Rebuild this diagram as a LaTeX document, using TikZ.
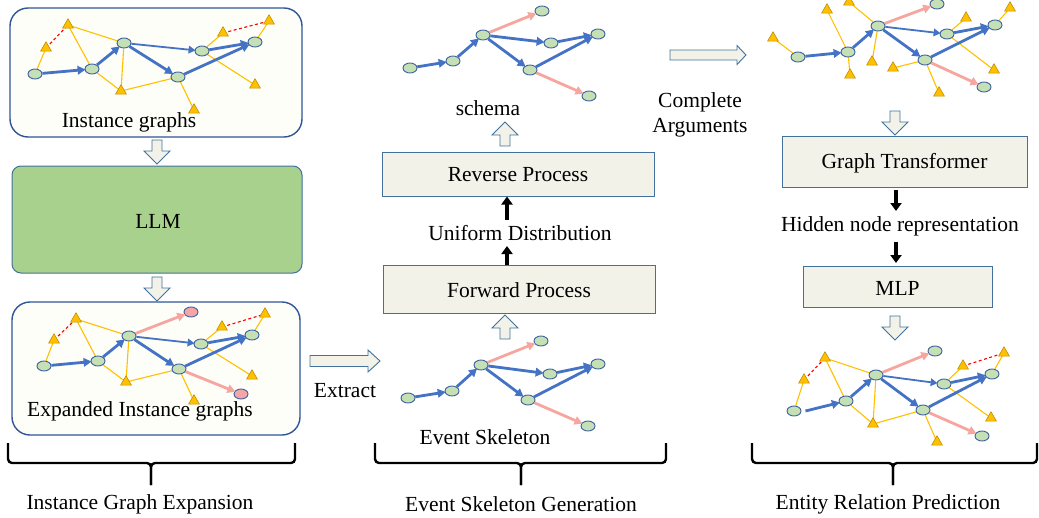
\documentclass[tikz,border=0pt]{standalone}
\usepackage{fontspec}
\setmainfont{Liberation Serif}
\usetikzlibrary{shapes.geometric,arrows.meta}
\definecolor{evfill}{HTML}{C5E0B4}
\definecolor{evborder}{HTML}{3A5E9E}
\definecolor{pinkfill}{HTML}{F4A6A6}
\definecolor{bluearr}{HTML}{4472C4}
\definecolor{pinkarr}{HTML}{F6A69E}
\definecolor{argfill}{HTML}{FFC000}
\definecolor{argborder}{HTML}{BF9000}
\definecolor{yel}{HTML}{FFC000}
\definecolor{boxfill}{HTML}{F2F2E8}
\definecolor{boxborder}{HTML}{41719C}
\definecolor{llmgreen}{HTML}{A9D18E}
\definecolor{gbfill}{HTML}{FEFEF9}
\definecolor{gbborder}{HTML}{2F5597}
\pgfdeclarelayer{back}
\pgfdeclarelayer{bg}
\pgfsetlayers{back,bg,main}
\tikzset{
  ev/.style={ellipse, draw=evborder, fill=evfill, line width=0.9pt, minimum width=14pt, minimum height=10pt, inner sep=0pt},
  evp/.style={ev, fill=pinkfill},
  arg/.style={regular polygon, regular polygon sides=3, draw=argborder, fill=argfill, line width=0.6pt, inner sep=0pt, minimum size=12.5pt},
  yl/.style={draw=yel, line width=1.1pt},
  rd/.style={draw=red, line width=1.1pt, dash pattern=on 3pt off 2.5pt},
  bthick/.style={draw=bluearr, line width=2.8pt, -{Triangle[length=8pt,width=8.5pt]}, shorten >=-1pt},
  bthin/.style={draw=bluearr, line width=1.8pt, -{Triangle[length=7pt,width=7.5pt]}, shorten >=-1pt},
  pk/.style={draw=pinkarr, line width=2.8pt, -{Triangle[length=8pt,width=8.5pt]}, shorten >=-1pt},
  hollow/.style={draw=boxborder, fill=boxfill, line width=0.9pt, line join=miter},
  procbox/.style={draw=boxborder, fill=boxfill, line width=1pt},
  gbox/.style={draw=gbborder, fill=gbfill, line width=1.4pt, rounded corners=18pt},
  txt/.style={inner sep=1pt, font=\fontsize{21.5}{24}\selectfont},
  blk/.style={draw=black, line width=3.2pt, -{Triangle[length=8pt,width=11pt]}},
  brace/.style={draw=black, line width=2.4pt, rounded corners=4pt},
  pics/vdown/.style={code={\draw[hollow] (-5,0) -- (5,0) -- (5,11) -- (13,11) -- (0,24) -- (-13,11) -- (-5,11) -- cycle;}},
  pics/vup/.style={code={\draw[hollow] (-5,0) -- (5,0) -- (5,-11) -- (13,-11) -- (0,-24) -- (-13,-11) -- (-5,-11) -- cycle;}},
  pics/hbig/.style={code={\draw[hollow] (0,-5.5) -- (58,-5.5) -- (58,-11) -- (70,0) -- (58,11) -- (58,5.5) -- (0,5.5) -- cycle;}},
  pics/hsmall/.style={code={\draw[hollow] (0,-5) -- (67,-5) -- (67,-9.5) -- (76,0) -- (67,9.5) -- (67,5) -- (0,5) -- cycle;}},
}
\begin{document}
\begin{tikzpicture}[x=1pt,y=-1pt]
\useasboundingbox (0,0) rectangle (1039,517);

% ---------- left column boxes ----------
\begin{pgfonlayer}{back}
\node[gbox, minimum width=292pt, minimum height=129pt] (box1) at (156,72.5) {};
\node[gbox, minimum width=288pt, minimum height=133pt] (box3) at (156,368.5) {};
\end{pgfonlayer}
\node[procbox, fill=llmgreen, rounded corners=9pt, minimum width=290pt, minimum height=107pt] (llm) at (157,219.5) {};
\node[txt] (llmt) at (158,221) {LLM};
\node[txt] (t1) at (129,122) {Instance graphs};
\node[txt] (t3) at (140,411) {Expanded Instance graphs};
\pic at (157,140) {vdown};
\pic at (157,277) {vdown};

% ---------- graph A (instance graphs) ----------
\node[ev] (a1) at (35,74) {};
\node[ev] (a2) at (92,69) {};
\node[ev] (a3) at (124,43) {};
\node[ev] (a4) at (202,51) {};
\node[ev] (a5) at (255,42) {};
\node[ev] (a6) at (178,77) {};
\node[arg] (at1) at (46,48) {};
\node[arg] (at2) at (68,25) {};
\node[arg] (at3) at (121,91) {};
\node[arg] (at4) at (194,110) {};
\node[arg] (at5) at (223,33) {};
\node[arg] (at6) at (269,21) {};
\node[arg] (at7) at (255,85) {};
\begin{pgfonlayer}{bg}
\draw[yl] (at1.center) -- (a1) (at2.center) -- (a3) (at2.center) -- (a2) (a2) -- (at3.center) (a3) -- (at3.center) (at3.center) -- (a6) (a6) -- (at4.center) (at5.center) -- (a4) (a4) -- (at7.center) (at6.center) -- (a5);
\draw[rd] (at1.center) -- (at2.center) (at5.center) -- (at6.center);
\end{pgfonlayer}
\draw[bthick] (a1) -- (a2);
\draw[bthick] (a2) -- (a3);
\draw[bthin] (a3) -- (a4);
\draw[bthick] (a3) -- (a6);
\draw[bthick] (a4) -- (a5);
\draw[bthick] (a6) -- (a5);

% ---------- graph B (expanded) ----------
\node[ev] (b1) at (44,366) {};
\node[ev] (b2) at (98,361) {};
\node[ev] (b3) at (129,336) {};
\node[ev] (b4) at (201,344) {};
\node[ev] (b5) at (252,335) {};
\node[ev] (b6) at (179,369) {};
\node[evp] (bp1) at (191,312) {};
\node[evp] (bp2) at (241,394) {};
\node[arg] (bt1) at (54,340) {};
\node[arg] (bt2) at (76,319) {};
\node[arg] (bt3) at (126,382) {};
\node[arg] (bt4) at (194,401) {};
\node[arg] (bt5) at (222,327) {};
\node[arg] (bt6) at (265,314) {};
\node[arg] (bt7) at (252,376) {};
\begin{pgfonlayer}{bg}
\draw[yl] (bt1.center) -- (b1) (bt2.center) -- (b3) (bt2.center) -- (b2) (b2) -- (bt3.center) (b3) -- (bt3.center) (bt3.center) -- (b6) (b6) -- (bt4.center) (bt5.center) -- (b4) (b4) -- (bt7.center) (bt6.center) -- (b5);
\draw[rd] (bt1.center) -- (bt2.center) (bt5.center) -- (bt6.center);
\end{pgfonlayer}
\draw[bthick] (b1) -- (b2);
\draw[bthick] (b2) -- (b3);
\draw[bthin] (b3) -- (b4);
\draw[bthick] (b3) -- (b6);
\draw[bthick] (b4) -- (b5);
\draw[bthick] (b6) -- (b5);
\draw[pk] (b3) -- (bp1);
\draw[pk] (b6) -- (bp2);

% ---------- extract arrow ----------
\pic at (310,361) {hbig};
\node[txt] (ext) at (345,391) {Extract};

% ---------- middle column ----------
\node[ev] (c1) at (410,68) {};
\node[ev] (c2) at (453,61) {};
\node[ev] (c3) at (483,35) {};
\node[ev] (c4) at (551,43) {};
\node[ev] (c5) at (598,34) {};
\node[ev] (c6) at (530,70) {};
\node[ev] (c7) at (542,11) {};
\node[ev] (c8) at (589,96) {};
\draw[bthick] (c1) -- (c2);
\draw[bthick] (c2) -- (c3);
\draw[bthick] (c3) -- (c4);
\draw[bthick] (c3) -- (c6);
\draw[bthick] (c4) -- (c5);
\draw[bthick] (c6) -- (c5);
\draw[pk] (c3) -- (c7);
\draw[pk] (c6) -- (c8);
\node[txt] (schema) at (488,108) {schema};
\pic at (505,146) {vup};
\node[procbox, minimum width=272pt, minimum height=44pt] (rev) at (518,174) {};
\node[txt] (revt) at (518,175) {Reverse Process};
\node[txt] (unif) at (520,233) {Uniform Distribution};
\node[procbox, minimum width=272pt, minimum height=48pt] (fwd) at (519,289) {};
\node[txt] (fwdt) at (519,290) {Forward Process};
\draw[blk] ([xshift=-11pt]rev.south |- 0,220) -- ([xshift=-11pt]rev.south);
\draw[blk] ([xshift=-12pt]fwd.north) -- ([xshift=-12pt]fwd.north |- 0,246);
\pic at (505,339) {vup};

\node[ev] (d1) at (408,398) {};
\node[ev] (d2) at (452,391) {};
\node[ev] (d3) at (481,365) {};
\node[ev] (d4) at (550,374) {};
\node[ev] (d5) at (598,364) {};
\node[ev] (d6) at (528,400) {};
\node[ev] (d7) at (541,341) {};
\node[ev] (d8) at (588,426) {};
\draw[bthick] (d1) -- (d2);
\draw[bthick] (d2) -- (d3);
\draw[bthick] (d3) -- (d4);
\draw[bthick] (d3) -- (d6);
\draw[bthick] (d4) -- (d5);
\draw[bthick] (d6) -- (d5);
\draw[pk] (d3) -- (d7);
\draw[pk] (d6) -- (d8);
\node[txt] (skel) at (485,437) {Event Skeleton};

% ---------- complete arguments ----------
\pic at (670,55) {hsmall};
\node[txt] (comp) at (700,102) {Complete};
\node[txt] (args) at (700,128) {Arguments};

% ---------- right column ----------
\node[ev] (e1) at (798,57) {};
\node[ev] (e2) at (848,52) {};
\node[ev] (e3) at (878,26) {};
\node[ev] (e4) at (947,34) {};
\node[ev] (e5) at (995,25) {};
\node[ev] (e6) at (925,60) {};
\node[ev] (e7) at (937,4) {};
\node[ev] (e8) at (984,87) {};
\node[arg] (et1) at (773,38) {};
\node[arg] (et2) at (827,10) {};
\node[arg] (et3) at (849,2) {};
\node[arg] (et4) at (872,62) {};
\node[arg] (et5) at (850,75) {};
\node[arg] (et6) at (893,68) {};
\node[arg] (et7) at (966,18) {};
\node[arg] (et8) at (1010,8) {};
\node[arg] (et9) at (994,70) {};
\node[arg] (et10) at (939,93) {};
\begin{pgfonlayer}{bg}
\draw[yl] (et1.center) -- (e1) (et2.center) -- (e2) (et3.center) -- (e3) (et4.center) -- (e3) (et5.center) -- (e2) (et6.center) -- (e6) (et10.center) -- (e6) (et7.center) -- (e4) (et9.center) -- (e4) (et8.center) -- (e5);
\end{pgfonlayer}
\draw[bthick] (e1) -- (e2);
\draw[bthick] (e2) -- (e3);
\draw[bthin] (e3) -- (e4);
\draw[bthick] (e3) -- (e6);
\draw[bthick] (e4) -- (e5);
\draw[bthick] (e6) -- (e5);
\draw[pk] (e3) -- (e7);
\draw[pk] (e6) -- (e8);

\pic at (895,111) {vdown};
\node[procbox, minimum width=245pt, minimum height=51pt] (gt) at (904.5,161.5) {};
\node[txt] (gtt) at (904.5,163) {Graph Transformer};
\node[txt] (hid) at (900,226) {Hidden node representation};
\node[procbox, minimum width=189pt, minimum height=41pt] (mlp) at (897.5,286.5) {};
\node[txt] (mlpt) at (897.5,288) {MLP};
\draw[blk] ([xshift=-8.5pt]gt.south |- 0,190) -- ([xshift=-8.5pt]gt.south |- 0,211);
\draw[blk] ([xshift=-1.5pt]mlp.north |- 0,242) -- ([xshift=-1.5pt]mlp.north |- 0,263);
\pic at (895,316) {vdown};

\node[ev] (f1) at (794,411) {};
\node[ev] (f2) at (846,401) {};
\node[ev] (f3) at (876,375) {};
\node[ev] (f4) at (944,384) {};
\node[ev] (f5) at (992,374) {};
\node[ev] (f6) at (923,410) {};
\node[ev] (f7) at (935,351) {};
\node[ev] (f8) at (982,436) {};
\node[arg] (ft1) at (804,380) {};
\node[arg] (ft2) at (825,358) {};
\node[arg] (ft3) at (873,424) {};
\node[arg] (ft4) at (937,442) {};
\node[arg] (ft5) at (963,366) {};
\node[arg] (ft6) at (1004,353) {};
\node[arg] (ft7) at (991,418) {};
\begin{pgfonlayer}{bg}
\draw[yl] (ft1.center) -- (f1) (ft2.center) -- (f3) (ft2.center) -- (f2) (f2) -- (ft3.center) (f3) -- (ft3.center) (ft3.center) -- (f6) (f6) -- (ft4.center) (ft5.center) -- (f4) (f4) -- (ft7.center) (ft6.center) -- (f5);
\draw[rd] (ft1.center) -- (ft2.center) (ft5.center) -- (ft6.center);
\end{pgfonlayer}
\draw[bthick] ([xshift=4pt]f1.east) -- (f2);
\draw[bthick] (f2) -- (f3);
\draw[bthin] (f3) -- (f4);
\draw[bthick] (f3) -- (f6);
\draw[bthick] (f4) -- (f5);
\draw[bthick] (f6) -- (f5);
\draw[pk] (f3) -- (f7);
\draw[pk] (f6) -- (f8);

% ---------- braces ----------
\draw[brace] (8,443) -- (8,463) -- (151,463) -- (151,485);
\draw[brace] (295,443) -- (295,463) -- (151,463) -- (151,485);
\draw[brace] (375,443) -- (375,463) -- (521,463) -- (521,485);
\draw[brace] (666,443) -- (666,463) -- (521,463) -- (521,485);
\draw[brace] (752,443) -- (752,463) -- (893,463) -- (893,485);
\draw[brace] (1037,443) -- (1037,463) -- (893,463) -- (893,485);
\node[txt] (lab1) at (140,504) {Instance Graph Expansion};
\node[txt] (lab2) at (521,504) {Event Skeleton Generation};
\node[txt] (lab3) at (888,504) {Entity Relation Prediction};
\end{tikzpicture}
\end{document}
